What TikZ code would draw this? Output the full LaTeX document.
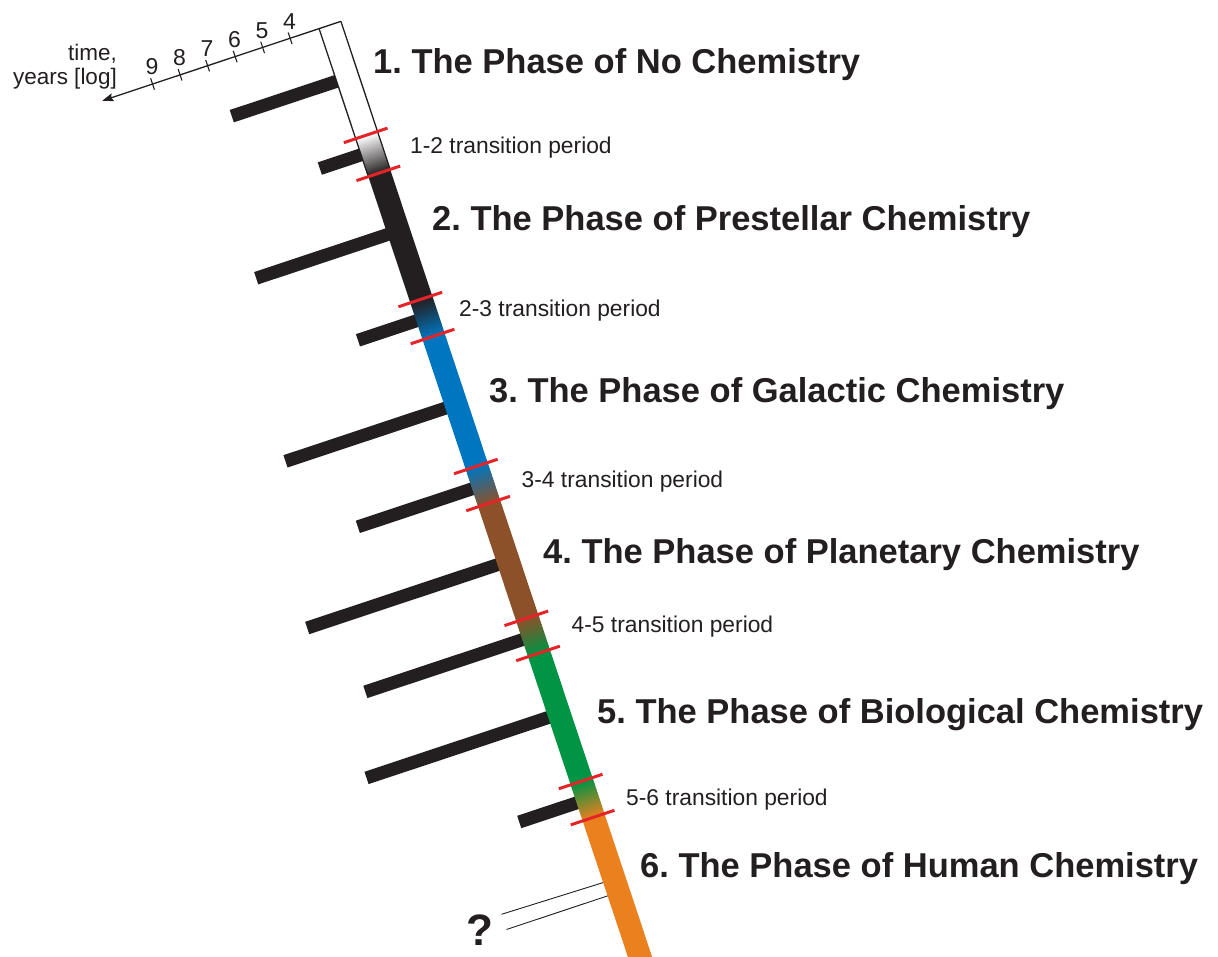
\documentclass[tikz,border=0pt]{standalone}
\usepackage{fontspec}
\setmainfont{Liberation Sans}
\usetikzlibrary{arrows.meta}
\definecolor{bandblack}{RGB}{35,31,32}
\definecolor{pblue}{RGB}{0,118,192}
\definecolor{pbrown}{RGB}{140,81,41}
\definecolor{pgreen}{RGB}{0,148,68}
\definecolor{porange}{RGB}{234,128,30}
\definecolor{pred}{RGB}{228,36,40}
\frenchspacing
\begin{document}
\begin{tikzpicture}[x=1pt,y=-1pt,
  heading/.style={anchor=base west, font=\fontsize{34.5}{40}\selectfont\bfseries, inner sep=0pt, text=bandblack},
  translabel/.style={anchor=base west, font=\fontsize{22.8}{26}\selectfont, inner sep=0pt, text=bandblack},
  ticklabel/.style={font=\fontsize{23}{26}\selectfont, inner sep=0pt, text=bandblack},
  arm/.style={line width=13pt, bandblack},
  redmark/.style={line width=3pt, pred},
  outline/.style={line width=1.3pt, bandblack},
  qline/.style={line width=0.9pt, bandblack}]
\clip (0,0) rectangle (1218,956);
\fill[white] (0,0) rectangle (1218,956);
\begin{scope}[shift={(330,25)}, rotate=-71.6]
  % side arms (drawn first, band covers their inner ends)
  \foreach \s/\w in {133/55, 217/150, 308/73, 400/180, 485/132, 565/212, 644/177, 726/203, 816/72}
    \draw[arm] (\s,6) -- (\s,\w);
  \draw[arm] (55.5,11.5) -- (55.5,122);
  % question lines
  \draw[qline] (900,11) -- (898,118);
  \draw[qline] (914,11) -- (914,118);
  % solid band segments
  \fill[white] (0,-11.5) rectangle (116.5,11.5);
  \fill[bandblack] (155.5,-11.5) rectangle (289.5,11.5);
  \fill[pblue] (327.5,-11.5) rectangle (465.5,11.5);
  \fill[pbrown] (503.5,-11.5) rectangle (625.5,11.5);
  \fill[pgreen] (661.5,-11.5) rectangle (797.5,11.5);
  \fill[porange] (834.5,-11.5) rectangle (1010,11.5);
  % gradient transitions
  \foreach \ca/\cb/\sa/\sb in {white/bandblack/116/156, bandblack/pblue/289/328, pblue/pbrown/465/504, pbrown/pgreen/625/662, pgreen/porange/797/835} {
    \foreach \i in {0,...,24} {
      \pgfmathtruncatemacro\p{100-4*\i}
      \pgfmathsetmacro\xa{\sa+(\sb-\sa)*\i/25}
      \pgfmathsetmacro\xb{\sa+(\sb-\sa)*(\i+1)/25+0.6}
      \fill[\ca!\p!\cb] (\xa,-11.5) rectangle (\xb,11.5);
    }
  }
  % outline of the first phase
  \draw[outline] (0,11.5) -- (156,11.5);
  \draw[outline] (0,-11.5) -- (156,-11.5);
  % time axis
  \draw[outline, -{Stealth[length=11pt,width=8pt,inset=1.5pt]}] (0,-11.5) -- (0,240);
  \foreach \k in {0,...,5}
    \draw[line width=1.1pt, bandblack] (-6,42+29*\k) -- (6,42+29*\k);
  % red marks
  \foreach \s in {116,156,289,328,465,504,625,662,797,835}
    \draw[redmark] (\s,-22) -- (\s,24);
\end{scope}
% tick labels
\node[ticklabel] (l4) at (289.5,21.5) {4};
\node[ticklabel] (l5) at (262,30.5) {5};
\node[ticklabel] (l6) at (234.5,39.5) {6};
\node[ticklabel] (l7) at (207,48.5) {7};
\node[ticklabel] (l8) at (179.5,58) {8};
\node[ticklabel] (l9) at (152,67) {9};
\node[anchor=north east, align=right, inner sep=0pt, font=\fontsize{22.5}{24}\selectfont, text=bandblack] (axl) at (117,44) {time,\\years [log]};
% headings
\node[heading] (h1) at (373,73) {1. The Phase of No Chemistry};
\node[heading] (h2) at (432,230) {2. The Phase of Prestellar Chemistry};
\node[heading] (h3) at (489,402) {3. The Phase of Galactic Chemistry};
\node[heading] (h4) at (543,563) {4. The Phase of Planetary Chemistry};
\node[heading] (h5) at (597,723) {5. The Phase of Biological Chemistry};
\node[heading] (h6) at (640,877) {6. The Phase of Human Chemistry};
% transition labels
\node[translabel] (t12) at (410,153) {1-2 transition period};
\node[translabel] (t23) at (459,316.5) {2-3 transition period};
\node[translabel] (t34) at (521.5,487) {3-4 transition period};
\node[translabel] (t45) at (571.5,632) {4-5 transition period};
\node[translabel] (t56) at (626,805) {5-6 transition period};
% question mark
\node[anchor=base, inner sep=0pt, font=\fontsize{44}{48}\selectfont\bfseries, text=bandblack] (q) at (480,945) {?};
\end{tikzpicture}
\end{document}
